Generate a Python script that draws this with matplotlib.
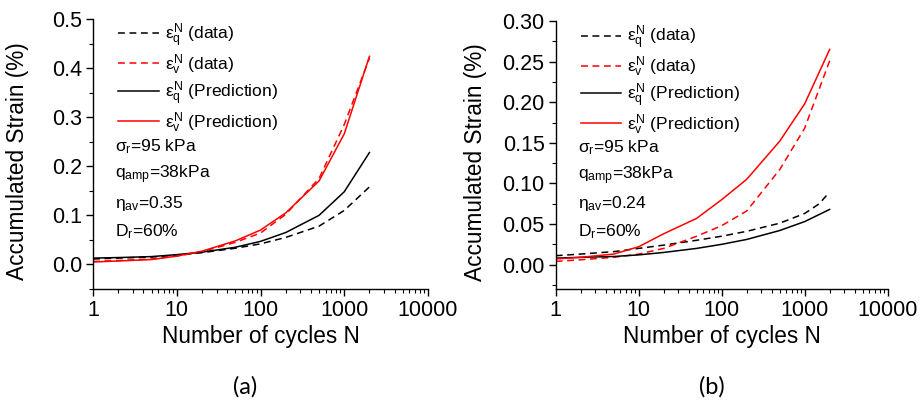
import numpy as np
import matplotlib
matplotlib.use("Agg")
import matplotlib.pyplot as plt
from matplotlib.ticker import FixedLocator, MultipleLocator, LogLocator, NullFormatter

plt.rcParams['font.family'] = ['Liberation Sans', 'DejaVu Sans']
plt.rcParams['mathtext.fontset'] = 'custom'
plt.rcParams['mathtext.rm'] = 'Liberation Sans'
plt.rcParams['mathtext.it'] = 'Liberation Sans'
plt.rcParams['mathtext.bf'] = 'Liberation Sans:bold'

# cycle counts where strains were sampled
N = [1, 2, 5, 10, 20, 50, 100, 200, 500, 1000, 2000]
N_qdata_b = [1, 2, 5, 10, 20, 50, 100, 200, 500, 1000, 1500, 1900]

# panel (a): eta_av = 0.35
a_q_data = [0.011, 0.013, 0.015, 0.019, 0.024, 0.033, 0.042, 0.055, 0.078, 0.110, 0.158]
a_v_data = [0.006, 0.008, 0.011, 0.017, 0.026, 0.045, 0.064, 0.102, 0.175, 0.285, 0.420]
a_q_pred = [0.013, 0.014, 0.016, 0.020, 0.025, 0.035, 0.047, 0.065, 0.100, 0.148, 0.228]
a_v_pred = [0.005, 0.007, 0.010, 0.017, 0.027, 0.048, 0.070, 0.105, 0.170, 0.266, 0.424]

# panel (b): eta_av = 0.24
b_q_data = [0.011, 0.013, 0.016, 0.020, 0.024, 0.030, 0.035, 0.041, 0.051, 0.063, 0.075, 0.087]
b_v_data = [0.004, 0.006, 0.009, 0.013, 0.020, 0.035, 0.048, 0.066, 0.117, 0.168, 0.251]
b_q_pred = [0.008, 0.009, 0.010, 0.012, 0.015, 0.020, 0.025, 0.031, 0.042, 0.053, 0.068]
b_v_pred = [0.007, 0.009, 0.013, 0.022, 0.038, 0.057, 0.080, 0.105, 0.152, 0.198, 0.265]

x_ticks = [1, 10, 100, 1000, 10000]
x_ticklabels = ['1', '10', '100', '1000', '10000']

labels = [r'$\varepsilon_q^N$ (data)', r'$\varepsilon_v^N$ (data)',
          r'$\varepsilon_q^N$ (Prediction)', r'$\varepsilon_v^N$ (Prediction)']

fig = plt.figure(figsize=(9.21, 4.03), dpi=100)
ax_a = fig.add_axes([0.101, 0.2829, 0.3637, 0.670])
ax_b = fig.add_axes([0.6034, 0.2829, 0.3604, 0.665])

dash = (0, (4.5, 3))


def style_panel(ax, ylim, major, minor, yfmt, eta, ylab_x):
    ax.set_xscale('log')
    ax.set_xlim(1, 10000)
    ax.set_ylim(*ylim)
    ax.xaxis.set_major_locator(FixedLocator(x_ticks))
    ax.set_xticklabels(x_ticklabels)
    ax.xaxis.set_minor_locator(LogLocator(base=10, subs=np.arange(2, 10)))
    ax.xaxis.set_minor_formatter(NullFormatter())
    ax.yaxis.set_major_locator(MultipleLocator(major))
    ax.yaxis.set_minor_locator(MultipleLocator(minor))
    ax.yaxis.set_major_formatter(plt.FuncFormatter(lambda v, p: yfmt.format(v)))
    for s in ['top', 'right']:
        ax.spines[s].set_visible(False)
    for s in ['left', 'bottom']:
        ax.spines[s].set_linewidth(1.0)
    ax.tick_params(which='major', direction='out', length=5, width=1.0, labelsize=15.5, pad=3)
    ax.tick_params(which='minor', direction='out', length=3, width=0.8)
    ax.set_xlabel('Number of cycles N', fontsize=16.3, labelpad=3)
    ax.set_ylabel('Accumulated Strain (%)', fontsize=16.3)
    ax.yaxis.set_label_coords(ylab_x, 0.475)
    ax.legend(loc='upper left', bbox_to_anchor=(0.055, 1.017), frameon=False,
              fontsize=12.6, handlelength=2.3, handletextpad=0.35, labelspacing=0.15,
              borderaxespad=0)
    ann = [r'$\sigma_r$=95 kPa', r'$q_{amp}$=38kPa', r'$\eta_{av}$=' + eta, r'$D_r$=60%']
    for i, t in enumerate(ann):
        ax.text(0.066, 0.526 - i * 0.104, t, transform=ax.transAxes,
                fontsize=12.6, ha='left', va='center')


ax_a.plot(N, a_q_data, color='black', lw=1.1, ls=dash, label=labels[0])
ax_a.plot(N, a_v_data, color='red', lw=1.1, ls=dash, label=labels[1])
ax_a.plot(N, a_q_pred, color='black', lw=1.1, label=labels[2])
ax_a.plot(N, a_v_pred, color='red', lw=1.1, label=labels[3])
style_panel(ax_a, (-0.05, 0.5), 0.1, 0.05, '{:.1f}', '0.35', -0.191)

ax_b.plot(N_qdata_b, b_q_data, color='black', lw=1.1, ls=dash, label=labels[0])
ax_b.plot(N, b_v_data, color='red', lw=1.1, ls=dash, label=labels[1])
ax_b.plot(N, b_q_pred, color='black', lw=1.1, label=labels[2])
ax_b.plot(N, b_v_pred, color='red', lw=1.1, label=labels[3])
style_panel(ax_b, (-0.03, 0.30), 0.05, 0.025, '{:.2f}', '0.24', -0.207)

fig.text(245 / 921, 1 - 387 / 403, '(a)', ha='center', va='center', fontsize=17, family='Lato')
fig.text(712 / 921, 1 - 387 / 403, '(b)', ha='center', va='center', fontsize=17, family='Lato')

fig.savefig('out.png', dpi=100)
